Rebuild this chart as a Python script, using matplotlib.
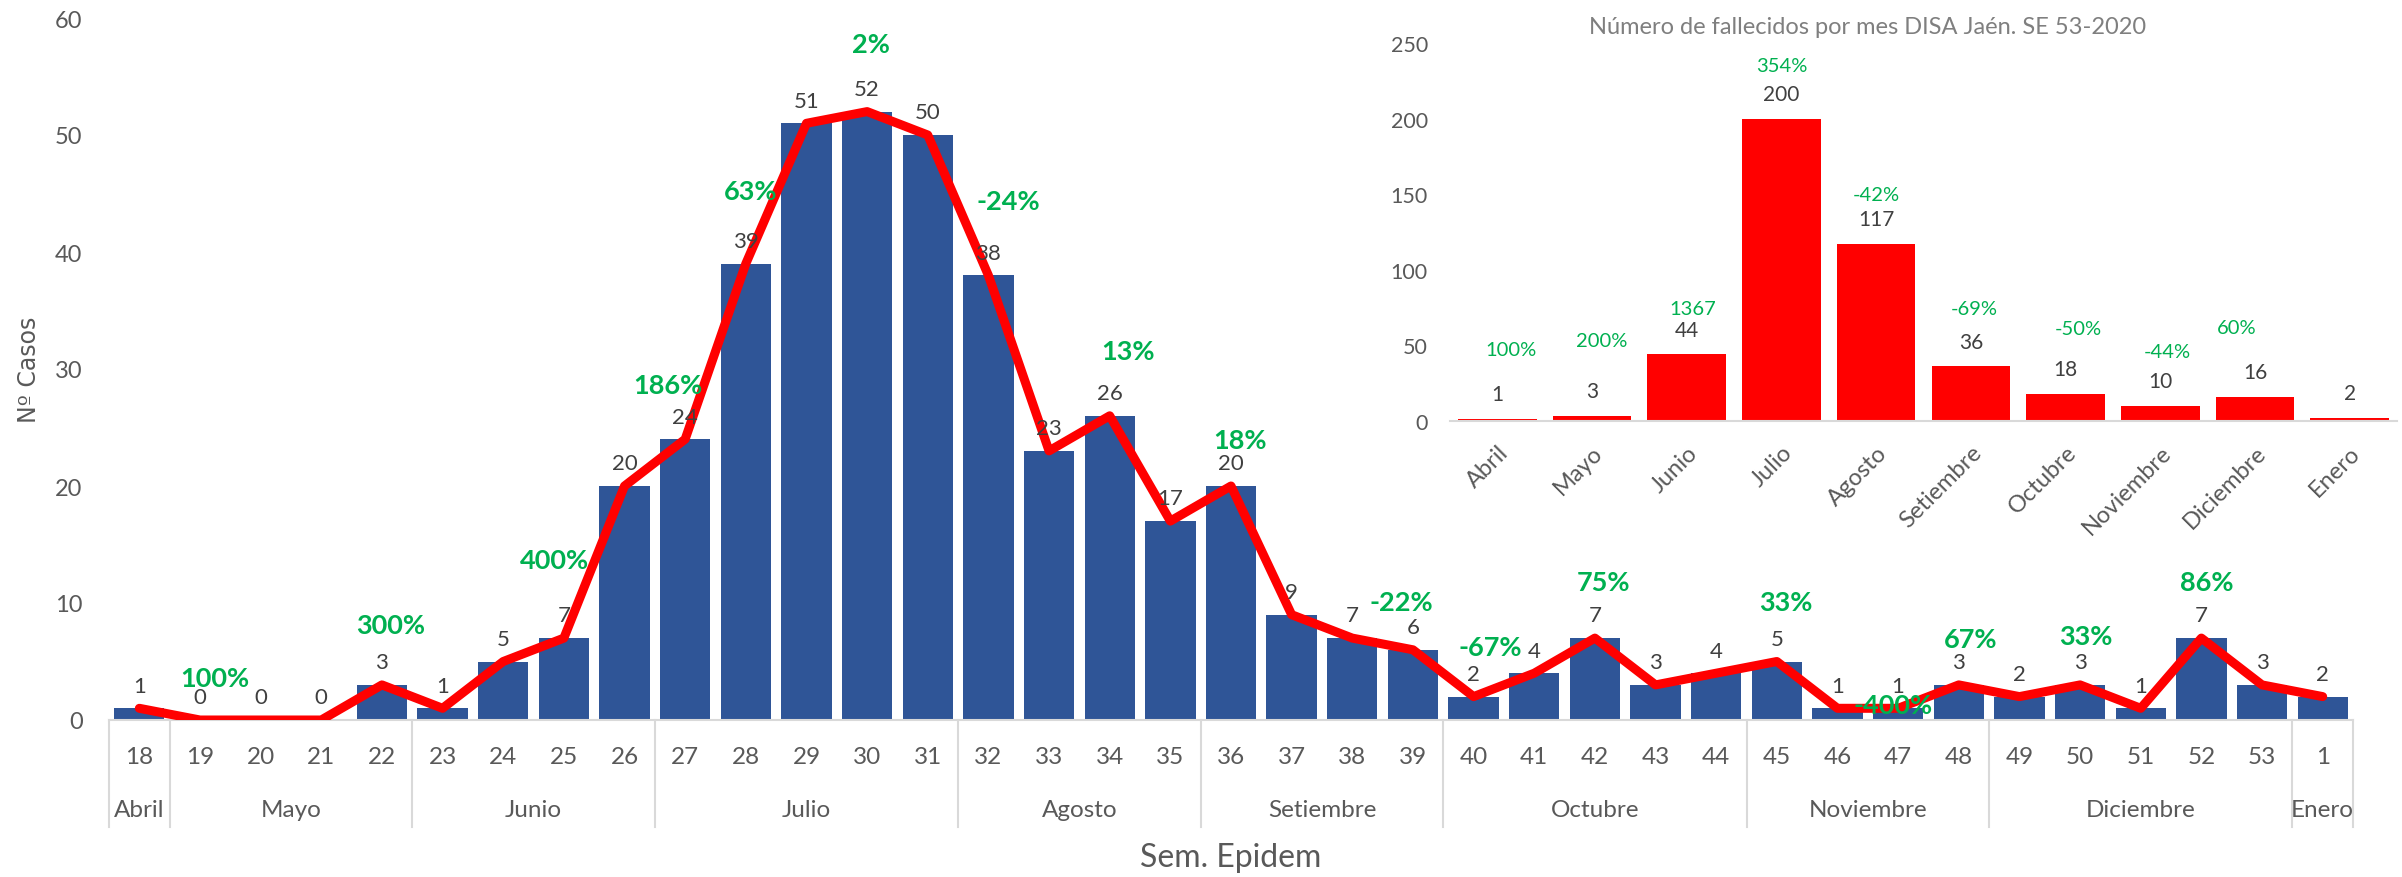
import numpy as np
import matplotlib
matplotlib.use("Agg")
import matplotlib.pyplot as plt
import matplotlib.transforms as mtransforms

plt.rcParams['font.family'] = ['Lato', 'DejaVu Sans']

# weekly cases (Sem. Epidem 18 .. 53 of 2020, then week 1)
weeks = [18, 19, 20, 21, 22, 23, 24, 25, 26, 27, 28, 29, 30, 31, 32, 33, 34, 35,
         36, 37, 38, 39, 40, 41, 42, 43, 44, 45, 46, 47, 48, 49, 50, 51, 52, 53, 1]
cases = [1, 0, 0, 0, 3, 1, 5, 7, 20, 24, 39, 51, 52, 50, 38, 23, 26, 17,
         20, 9, 7, 6, 2, 4, 7, 3, 4, 5, 1, 1, 3, 2, 3, 1, 7, 3, 2]
months = ['Abril', 'Mayo', 'Junio', 'Julio', 'Agosto', 'Setiembre',
          'Octubre', 'Noviembre', 'Diciembre', 'Enero']
weeks_per_month = [1, 4, 4, 5, 4, 4, 5, 4, 5, 1]

pct_text = ['100%', '300%', '400%', '186%', '63%', '2%', '-24%', '13%', '18%',
            '-22%', '-67%', '75%', '33%', '-400%', '67%', '33%', '86%']
pct_week = [19, 22, 25, 27, 28, 30, 32, 34, 36, 39, 40, 42, 45, 47, 48, 50, 52]

# monthly deaths (inset)
deaths = [1, 3, 44, 200, 117, 36, 18, 10, 16, 2]
deaths_pct = ['100%', '200%', '1367', '354%', '-42%', '-69%', '-50%', '-44%', '60%']

W, H = 2402, 878
fig = plt.figure(figsize=(W / 100, H / 100), dpi=100)

# ---- main chart ----
ax = fig.add_axes([109 / W, 1 - 721 / H, (2353 - 109) / W, (721 - 19) / H])
x = np.arange(len(weeks))
ax.bar(x, cases, width=0.83, color='#2F5597', zorder=2)
ax.plot(x, cases, color='red', lw=6.5, zorder=3,
        solid_joinstyle='round', solid_capstyle='round')
ax.set_xlim(-0.5, len(weeks) - 0.5)
ax.set_ylim(0, 60)
ax.set_yticks(range(0, 61, 10))
for s in ['top', 'right', 'left']:
    ax.spines[s].set_visible(False)
ax.spines['bottom'].set_color('#D9D9D9')
ax.spines['bottom'].set_linewidth(1.5)
ax.tick_params(axis='y', length=0, pad=19, labelsize=17, labelcolor='#595959')
ax.set_xticks([])

tr = mtransforms.blended_transform_factory(ax.transData, ax.transAxes)
for i, w in enumerate(weeks):
    ax.text(i, -0.0513, str(w), transform=tr, ha='center', va='center',
            fontsize=17.5, color='#595959')

# month groups and separators
bounds = np.concatenate([[0], np.cumsum(weeks_per_month)]) - 0.5
for b in bounds:
    ax.plot([b, b], [0, -0.152], transform=tr, color='#D9D9D9', lw=1.5,
            clip_on=False)
for m, a, b in zip(months, bounds[:-1], bounds[1:]):
    ax.text((a + b) / 2, -0.128, m, transform=tr, ha='center', va='center',
            fontsize=17.5, color='#595959')

for i, v in enumerate(cases):
    ax.annotate(str(v), (i, v), xytext=(0, 12), textcoords='offset points',
                ha='center', va='baseline', fontsize=16, color='#404040', zorder=4)

# green % labels: (x shift in categories, y in data units)
pct_pos = [(0.25, 3.6), (0.14, 8.1), (-0.16, 13.7), (-0.28, 28.6), (0.08, 45.2),
           (0.06, 57.8), (0.32, 44.4), (0.31, 31.5), (0.15, 23.9), (-0.2, 10.1),
           (0.27, 6.2), (0.14, 11.8), (0.14, 10.1), (-0.08, 1.3), (0.19, 6.9),
           (0.09, 7.2), (0.09, 11.8)]
for t, w, (dx, yy) in zip(pct_text, pct_week, pct_pos):
    ax.text(weeks.index(w) + dx, yy, t, ha='center', va='center',
            fontsize=19.5, fontweight='bold', color='#00B050', zorder=5)

fig.text(1231 / W, 1 - 858 / H, 'Sem. Epidem', ha='center', va='center',
         fontsize=23, color='#595959')
fig.text(29 / W, 1 - 370 / H, 'Nº Casos', ha='center', va='center',
         rotation=90, fontsize=17, color='#595959', family='DejaVu Sans')

# ---- inset chart ----
ax2 = fig.add_axes([1450 / W, 1 - 421.7 / H, (2397 - 1450) / W, (421.7 - 44.3) / H])
ax2.patch.set_alpha(0)
xi = np.arange(len(months))
ax2.bar(xi, deaths, width=0.83, color='#FF0000', zorder=2)
ax2.set_xlim(-0.5, len(months) - 0.5)
ax2.set_ylim(0, 250)
ax2.set_yticks(range(0, 251, 50))
for s in ['top', 'right', 'left']:
    ax2.spines[s].set_visible(False)
ax2.spines['bottom'].set_color('#D9D9D9')
ax2.spines['bottom'].set_linewidth(1.5)
ax2.tick_params(axis='y', length=0, pad=16, labelsize=15.5, labelcolor='#595959')
ax2.set_xticks(xi)
ax2.set_xticklabels(months, rotation=45, ha='right', rotation_mode='anchor',
                    fontsize=17, color='#595959')
ax2.tick_params(axis='x', length=0, pad=15)

for i, v in enumerate(deaths):
    ax2.annotate(str(v), (i, v), xytext=(0, 13.5), textcoords='offset points',
                 ha='center', va='baseline', fontsize=15, color='#404040')

inset_pct_pos = [(0.14, 47), (0.1, 53), (0.06, 74.5), (0, 235.6), (0, 150),
                 (0.04, 74), (0.13, 61), (0.07, 46), (-0.19, 62)]
for i, (t, (dx, yy)) in enumerate(zip(deaths_pct, inset_pct_pos)):
    ax2.text(i + dx, yy, t, ha='center', va='center', fontsize=14.5,
             color='#00B050')

fig.text(1868 / W, 1 - 27 / H, 'Número de fallecidos por mes DISA Jaén. SE 53-2020',
         ha='center', va='center', fontsize=17, color='#7F7F7F')

fig.savefig('out.png', dpi=100)
